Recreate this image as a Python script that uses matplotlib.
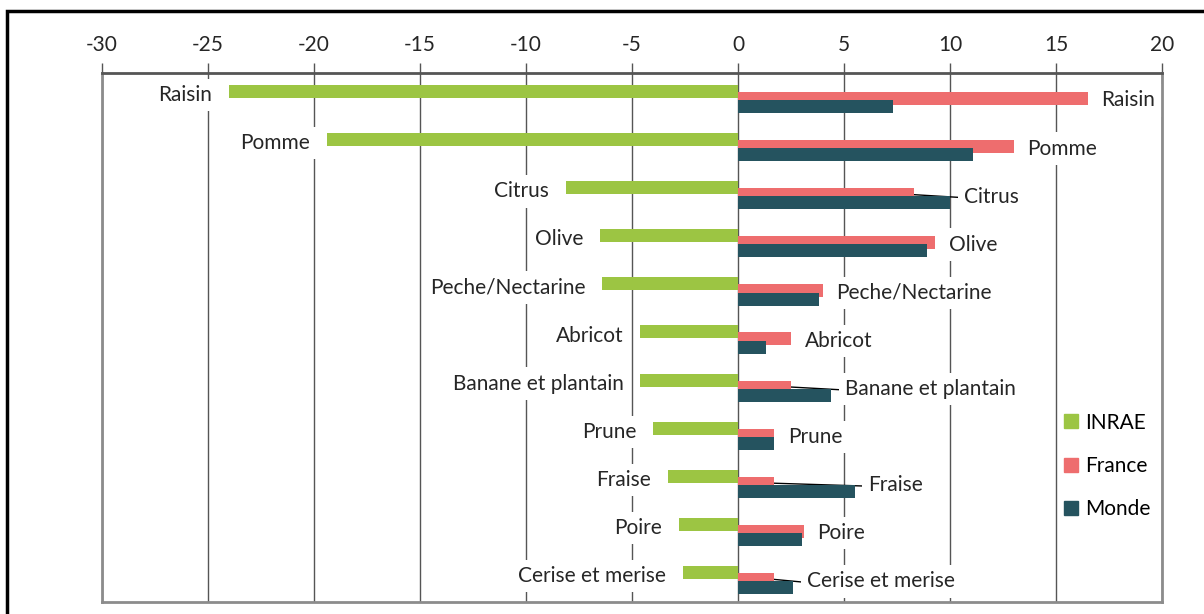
import matplotlib
matplotlib.use('Agg')
import matplotlib.pyplot as plt
from matplotlib.patches import Patch, Rectangle

plt.rcParams['font.family'] = ['Lato', 'DejaVu Sans']

categories = ['Raisin', 'Pomme', 'Citrus', 'Olive', 'Peche/Nectarine', 'Abricot',
              'Banane et plantain', 'Prune', 'Fraise', 'Poire', 'Cerise et merise']
inrae = [-24.0, -19.4, -8.1, -6.5, -6.4, -4.6, -4.6, -4.0, -3.3, -2.8, -2.6]
france = [16.5, 13.0, 8.3, 9.3, 4.0, 2.5, 2.5, 1.7, 1.7, 3.1, 1.7]
monde = [7.3, 11.1, 10.0, 8.9, 3.8, 1.3, 4.4, 1.7, 5.5, 3.0, 2.6]
ticks = [-30, -25, -20, -15, -10, -5, 0, 5, 10, 15, 20]

GREEN = '#9cc543'
RED = '#ee6d6e'
DARK = '#25535f'
GRID = '#555555'
TXT = '#262626'
FS = 15

fig = plt.figure(figsize=(12.04, 6.14), dpi=100)
ax = fig.add_axes([102 / 1204, 1 - 602 / 614, 1060 / 1204, 529 / 614])

# outer frame of the picture
fig.patches.append(Rectangle((7 / 1204, -0.2), 1.2, 1.2 - 11 / 614,
                             transform=fig.transFigure, fill=False,
                             edgecolor='black', linewidth=2.5, zorder=0))

h = 0.27
y = list(range(len(categories)))
ax.barh([v - 0.115 for v in y], inrae, height=h, color=GREEN, zorder=3)
ax.barh([v + 0.03 for v in y], france, height=h, color=RED, zorder=3)
ax.barh([v + 0.2 for v in y], monde, height=h, color=DARK, zorder=4)

ax.set_xlim(-30, 20)
ax.set_ylim(len(categories) - 0.5, -0.5)
ax.set_yticks([])
ax.set_xticks(ticks)
ax.set_xticklabels([str(t) for t in ticks])
ax.xaxis.tick_top()
ax.tick_params(axis='x', direction='out', length=7, width=1, color=GRID,
               pad=6, labelsize=FS, labelcolor=TXT)
for t in ticks:
    ax.axvline(t, color=GRID, linewidth=1, zorder=1)

for side in ['left', 'right', 'bottom']:
    ax.spines[side].set_color('#8c8c8c')
    ax.spines[side].set_linewidth(2)
ax.spines['top'].set_color(GRID)
ax.spines['top'].set_linewidth(2)
for sp in ax.spines.values():
    sp.set_zorder(6)

box = dict(boxstyle='square,pad=0.3', facecolor='white', edgecolor='none')
for i, name in enumerate(categories):
    # label on the INRAE side
    ax.text(inrae[i] - 0.8, i - 0.04, name, ha='right', va='center', fontsize=FS,
            color=TXT, bbox=box, zorder=5)
    # label on the France/Monde side
    xr = max(france[i], monde[i]) + 0.65
    ax.text(xr, i + 0.07, name, ha='left', va='center', fontsize=FS,
            color=TXT, bbox=box, zorder=5)
    if monde[i] > france[i] + 0.5:
        ax.plot([france[i], xr - 0.1], [i + 0.03, i + 0.09], color='black',
                linewidth=1, zorder=2)

handles = [Patch(color=GREEN, label='INRAE'), Patch(color=RED, label='France'),
           Patch(color=DARK, label='Monde')]
ax.legend(handles=handles, loc='center left', bbox_to_anchor=(0.900, 0.257),
          frameon=False, fontsize=FS, handlelength=0.65, handleheight=0.65,
          handletextpad=0.35, labelspacing=1.12, borderaxespad=0)

fig.savefig('out.png', dpi=100)
